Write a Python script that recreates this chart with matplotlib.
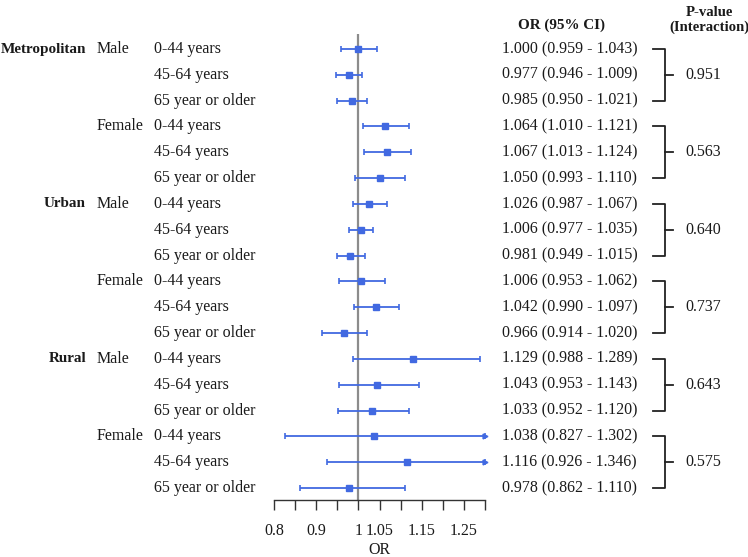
import matplotlib
matplotlib.use('Agg')
import matplotlib.pyplot as plt
from matplotlib.transforms import blended_transform_factory

plt.rcParams['font.family'] = ['Liberation Serif', 'DejaVu Serif']

regions = ['Metropolitan', 'Urban', 'Rural']
sexes = ['Male', 'Female']
ages = ['0-44 years', '45-64 years', '65 year or older']

odds = [1.000, 0.977, 0.985, 1.064, 1.067, 1.050,
        1.026, 1.006, 0.981, 1.006, 1.042, 0.966,
        1.129, 1.043, 1.033, 1.038, 1.116, 0.978]
lower = [0.959, 0.946, 0.950, 1.010, 1.013, 0.993,
         0.987, 0.977, 0.949, 0.953, 0.990, 0.914,
         0.988, 0.953, 0.952, 0.827, 0.926, 0.862]
upper = [1.043, 1.009, 1.021, 1.121, 1.124, 1.110,
         1.067, 1.035, 1.015, 1.062, 1.097, 1.020,
         1.289, 1.143, 1.120, 1.302, 1.346, 1.110]
p_interaction = ['0.951', '0.563', '0.640', '0.737', '0.643', '0.575']

tick_vals = [0.8, 0.85, 0.9, 0.95, 1.0, 1.05, 1.1, 1.15, 1.2, 1.25, 1.3]
tick_text = ['0.8', '', '0.9', '', '1', '1.05', '', '1.15', '', '1.25', '']
XMIN, XMAX = 0.8, 1.3

W, H = 748, 557
BLUE = '#4169E1'
TXT = '#1a1a1a'
FS = 11.5
FSB = 10.9

fig = plt.figure(figsize=(W / 100, H / 100), dpi=100)
ax_left, ax_right = 274, 485
ax_top, ax_bot = 34, 500
ax = fig.add_axes([ax_left / W, (H - ax_bot) / H,
                   (ax_right - ax_left) / W, (ax_bot - ax_top) / H])

n = len(odds)
row0, rowN = 49, 488
step = (rowN - row0) / (n - 1)
ax.set_ylim(n - 1 + (ax_bot - rowN) / step, -(row0 - ax_top) / step)
ax.set_xlim(XMIN, XMAX)

rows = list(range(n))
up_clip = [min(u, XMAX) for u in upper]
err = [[o - l for o, l in zip(odds, lower)], [u - o for o, u in zip(odds, up_clip)]]
ax.axvline(1.0, color='#8c8c8c', lw=1.6, zorder=1)
ax.errorbar(odds, rows, xerr=err, fmt='s', color=BLUE, ms=4.5, elinewidth=1.3,
            capsize=2, capthick=1.2, zorder=3, clip_on=False)
for r, u in zip(rows, upper):
    if u > XMAX:
        ax.plot(XMAX, r, marker='>', color=BLUE, ms=3.5, clip_on=False, zorder=3)

for s in ['top', 'right', 'left']:
    ax.spines[s].set_visible(False)
ax.spines['bottom'].set_color('#333333')
ax.spines['bottom'].set_linewidth(1.0)
ax.set_yticks([])
ax.set_xticks(tick_vals)
ax.set_xticklabels(tick_text, fontsize=FS, color=TXT)
ax.tick_params(axis='x', direction='out', length=7.5, width=1.0, color='#333333', pad=9)

trans = blended_transform_factory(fig.transFigure, ax.transData)

def fx(px):
    return px / W

for i in range(n):
    g, rem = divmod(i, 6)
    s, a = divmod(rem, 3)
    if rem == 0:
        ax.text(fx(86), i, regions[g], transform=trans, ha='right', va='center',
                fontsize=FSB, fontweight='bold', color=TXT)
    if a == 0:
        ax.text(fx(97), i, sexes[s], transform=trans, ha='left', va='center',
                fontsize=FS, color=TXT)
    ax.text(fx(154), i, ages[a], transform=trans, ha='left', va='center',
            fontsize=FS, color=TXT)
    ax.text(fx(502), i, f'{odds[i]:.3f} ({lower[i]:.3f} - {upper[i]:.3f})',
            transform=trans, ha='left', va='center', fontsize=FS, color=TXT)

# brackets with interaction p-values
for k, p in enumerate(p_interaction):
    r0, r1 = 3 * k, 3 * k + 2
    ax.plot([fx(653), fx(665), fx(665), fx(653)], [r0, r0, r1, r1],
            transform=trans, color='#222222', lw=1.3, clip_on=False)
    ax.plot([fx(665), fx(673)], [r0 + 1, r0 + 1], transform=trans,
            color='#222222', lw=1.3, clip_on=False)
    ax.text(fx(685), r0 + 1, p, transform=trans, ha='left', va='center',
            fontsize=FS, color=TXT)

fig.text(fx(562), 1 - 25 / H, 'OR (95% CI)', ha='center', va='center',
         fontsize=FSB, fontweight='bold', color=TXT)
fig.text(fx(709), 1 - 20 / H, 'P-value\n(Interaction)', ha='center', va='center',
         fontsize=10.6, fontweight='bold', color=TXT, linespacing=1.2)
fig.text(fx(379), 1 - 550 / H, 'OR', ha='center', va='center', fontsize=FS, color=TXT)

fig.savefig('out.png', dpi=100)
